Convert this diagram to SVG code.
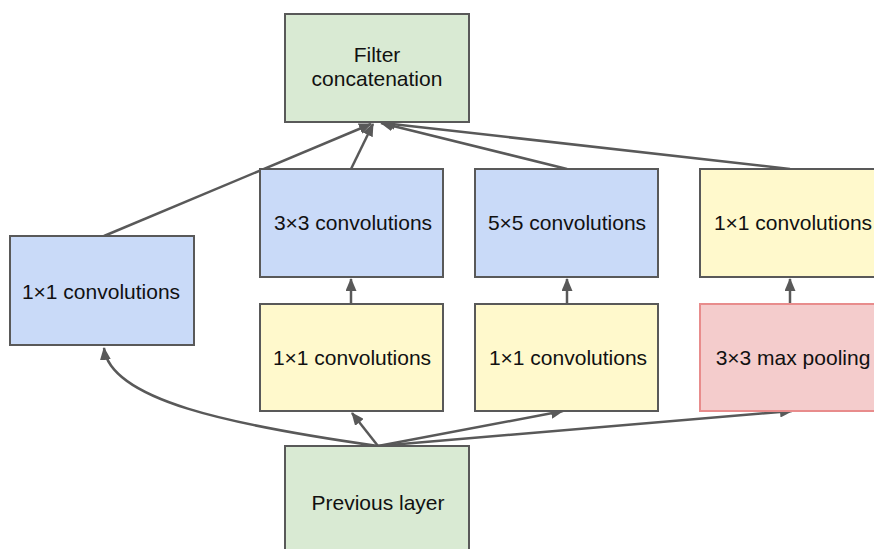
<svg xmlns="http://www.w3.org/2000/svg" width="874" height="549" viewBox="0 0 874 549">
<defs>
<style>
.box{stroke:#595959;stroke-width:2}
.green{fill:#d9ead3}
.blue{fill:#c9daf8}
.yellow{fill:#fff9cc}
.red{fill:#f4cccc;stroke:#e88c8c}
.lbl{font-family:"Liberation Sans",Arial,sans-serif;font-size:21px;fill:#111;text-anchor:middle}
.edge{fill:none;stroke:#595959;stroke-width:2.5}
</style>
<marker id="ah" markerUnits="userSpaceOnUse" markerWidth="13" markerHeight="11" refX="12" refY="5.5" orient="auto">
<path d="M0,0 L13,5.5 L0,11 z" fill="#595959"/>
</marker>
</defs>
<rect width="874" height="549" fill="#fff"/>
<g id="connectors">
<path class="edge" d="M104,236 L371,124" marker-end="url(#ah)"/>
<path class="edge" d="M351,169 L373,124" marker-end="url(#ah)"/>
<path class="edge" d="M567,169 L381,123" marker-end="url(#ah)"/>
<path class="edge" d="M790,169 L383,123" marker-end="url(#ah)"/>
<path class="edge" d="M351,304 L351,279" marker-end="url(#ah)"/>
<path class="edge" d="M567,304 L567,279" marker-end="url(#ah)"/>
<path class="edge" d="M790,304 L790,279" marker-end="url(#ah)"/>
<path class="edge" d="M378,446 C230,425 110,400 104,348" marker-end="url(#ah)"/>
<path class="edge" d="M378,446 L352,413" marker-end="url(#ah)"/>
<path class="edge" d="M378,446 L563,411" marker-end="url(#ah)"/>
<path class="edge" d="M378,446 L792,411" marker-end="url(#ah)"/>
</g>
<g id="filter-concat">
<rect class="box green" x="285" y="14" width="184" height="108"/>
<text class="lbl" x="377" y="62">Filter</text>
<text class="lbl" x="377" y="86">concatenation</text>
</g>
<g id="conv1x1-left">
<rect class="box blue" x="10" y="236" width="184" height="109"/>
<text class="lbl" x="101" y="299">1×1 convolutions</text>
</g>
<g id="conv3x3">
<rect class="box blue" x="260" y="169" width="183" height="108"/>
<text class="lbl" x="353" y="230">3×3 convolutions</text>
</g>
<g id="conv5x5">
<rect class="box blue" x="475" y="169" width="183" height="108"/>
<text class="lbl" x="567" y="230">5×5 convolutions</text>
</g>
<g id="conv1x1-right">
<rect class="box yellow" x="700" y="169" width="184" height="108"/>
<text class="lbl" x="793" y="230">1×1 convolutions</text>
</g>
<g id="reduce3x3">
<rect class="box yellow" x="260" y="304" width="183" height="107"/>
<text class="lbl" x="352" y="365">1×1 convolutions</text>
</g>
<g id="reduce5x5">
<rect class="box yellow" x="475" y="304" width="183" height="107"/>
<text class="lbl" x="568" y="365">1×1 convolutions</text>
</g>
<g id="maxpool">
<rect class="box red" x="700" y="304" width="184" height="107"/>
<text class="lbl" x="793" y="365">3×3 max pooling</text>
</g>
<g id="previous-layer">
<rect class="box green" x="285" y="446" width="184" height="120"/>
<text class="lbl" x="378" y="510">Previous layer</text>
</g>
</svg>
